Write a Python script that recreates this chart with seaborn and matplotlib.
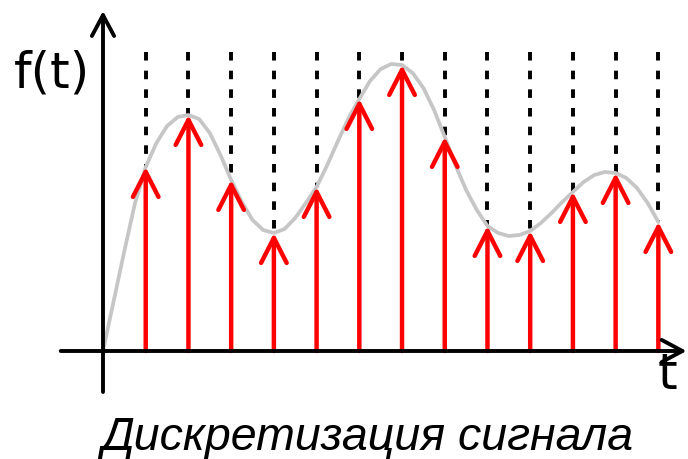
import numpy as np
import seaborn as sns
import matplotlib.pyplot as plt

# continuous signal, every 0.25 of a sample step
curve_t = np.arange(0, 13.01, 0.25)
curve_f = [0, 50, 100, 148, 184, 208, 225, 234, 236, 232, 218, 196,
           171, 149, 131, 121, 118, 122, 133, 148, 164, 186, 210, 233,
           252, 270, 282, 287, 286, 278, 263, 241, 214, 186, 161, 141,
           125, 118, 115, 116, 120, 128, 138, 149, 159, 169, 176, 179,
           178, 173, 163, 148, 129]

# samples
sample_t = list(range(1, 14))
sample_f = [184, 236, 171, 118, 164, 252, 286, 214, 125, 120, 159, 178, 129]

dotted_top = 299
caption = 'Дискретизация сигнала'

sns.set_style('white')
fig = plt.figure(figsize=(6.88, 4.6), dpi=100)
ax = fig.add_axes([0, 0, 1, 1])

# dotted guides from top down to the samples
ax.vlines(sample_t, [dotted_top] * len(sample_t), sample_f, colors='black',
          linestyles=(0, (2.2, 2.6)), linewidth=2.8, zorder=1)

sns.lineplot(x=curve_t, y=curve_f, color='#c6c6c6', linewidth=2.7, ax=ax, zorder=2,
             solid_joinstyle='round', solid_capstyle='round')

# sample arrows
for t, f in zip(sample_t, sample_f):
    ax.annotate('', xy=(t, f), xytext=(t, 0),
                arrowprops=dict(arrowstyle='->,head_length=0.9,head_width=0.46',
                                color='red', lw=3.2, shrinkA=0, shrinkB=0,
                                mutation_scale=20), zorder=3)

# axes with arrows
ax.annotate('', xy=(0, 340), xytext=(0, -41),
            arrowprops=dict(arrowstyle='->,head_length=0.75,head_width=0.4',
                            color='black', lw=2.8, shrinkA=0, shrinkB=0,
                            mutation_scale=20), zorder=4)
ax.annotate('', xy=(13.66, 0), xytext=(-0.99, 0),
            arrowprops=dict(arrowstyle='->,head_length=0.75,head_width=0.4',
                            color='black', lw=2.8, shrinkA=0, shrinkB=0,
                            mutation_scale=20), zorder=4)

ax.text(-1.2, 278, 'f(t)', fontsize=36, family='DejaVu Sans', color='black',
        ha='center', va='center')
ax.text(13.214, -23, 't', fontsize=36, family='DejaVu Sans', color='black',
        ha='center', va='center')
ax.text(6.19, -98, caption, fontsize=33.5, family='Liberation Sans', color='black',
        style='italic', ha='center', va='baseline')

ax.set_xlim(-2.411, 13.694)
ax.set_ylim(-108, 352)
ax.axis('off')

fig.savefig('out.png', dpi=100)
